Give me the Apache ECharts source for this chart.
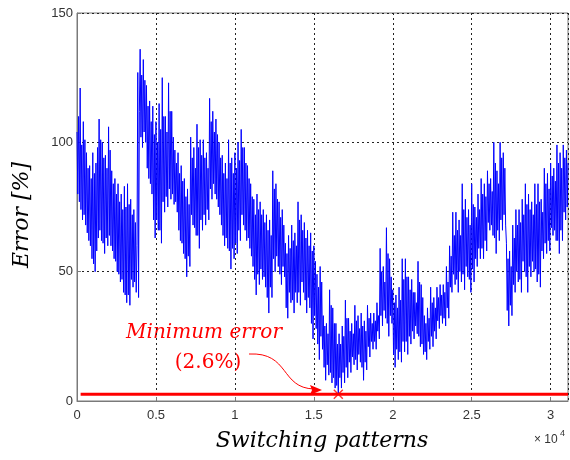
<!DOCTYPE html>
<html>
<head>
<meta charset="utf-8">
<script src="https://cdn.jsdelivr.net/npm/echarts@6/dist/echarts.min.js"></script>
<style>
  html, body { margin: 0; padding: 0; background: #fff; }
  #chart { width: 570px; height: 460px; }
</style>
</head>
<body>
<div id="chart"></div>
<script>
// error for each switching pattern, sampled every 50 patterns
const sampleStep = 50;
const errorPct = [
  104, 80, 110, 77, 121, 74, 99, 70,   108, 72, 101, 68, 96, 65, 90, 62,
  91, 60, 86, 55, 96, 53, 88, 50,      92, 58, 98, 63, 109, 66, 101, 62,
  100, 61, 94, 57, 95, 63, 90, 60,     106, 64, 97, 60, 89, 58, 84, 55,
  86, 54, 80, 50, 84, 49, 77, 46,      80, 47, 74, 42, 83, 41, 75, 38,
  84, 41, 76, 37, 78, 47, 72, 44,      74, 46, 69, 42, 60, 127, 40, 112,
  136, 102, 126, 98, 132, 104, 124, 100,  122, 90, 114, 86, 116, 84, 108, 80,
  114, 70, 103, 63, 108, 70, 100, 66,  115, 66, 105, 61, 125, 77, 110, 73,
  110, 79, 104, 75, 123, 82, 112, 78,  112, 80, 102, 76, 97, 77, 92, 73,
  96, 66, 88, 62, 91, 61, 85, 57,      86, 55, 79, 48, 82, 56, 76, 52,
  102, 72, 94, 68, 98, 67, 90, 64,     107, 64, 98, 59, 101, 70, 95, 66,
  101, 72, 94, 68, 96, 74, 90, 70,     117, 82, 108, 78, 112, 84, 104, 80,
  109, 78, 103, 75, 100, 72, 94, 68,   95, 64, 88, 60, 92, 63, 86, 59,
  101, 58, 92, 51, 94, 59, 88, 55,     96, 61, 90, 57, 100, 66, 93, 62,
  105, 72, 98, 68, 98, 66, 92, 62,     91, 63, 86, 59, 84, 56, 79, 52,
  78, 47, 72, 41, 80, 49, 74, 45,      77, 51, 72, 47, 74, 48, 69, 44,
  72, 40, 66, 34, 70, 44, 64, 40,      89, 55, 82, 50, 84, 56, 78, 52,
  77, 49, 71, 45, 74, 52, 68, 48,      61, 36, 57, 32, 64, 42, 59, 38,
  68, 39, 62, 34, 65, 42, 60, 38,      77, 42, 70, 37, 72, 46, 66, 42,
  69, 39, 63, 34, 66, 40, 60, 36,      65, 30, 58, 24, 60, 33, 54, 28,
  49, 22, 44, 16, 52, 25, 46, 20,      33, 13, 29, 8, 30, 14, 26, 10,
  43, 11, 37, 7, 36, 9, 30, 5,         30, 6, 22, 2.6, 26, 9, 22, 5,
  29, 11, 25, 7, 39, 13, 32, 9,        32, 15, 27, 11, 30, 17, 26, 14,
  37, 16, 31, 12, 33, 18, 28, 15,      34, 13, 29, 8, 31, 15, 27, 12,
  37, 21, 32, 17, 34, 23, 30, 20,      34, 23, 31, 20, 38, 27, 33, 24,
  59, 33, 50, 29, 52, 35, 46, 32,      67, 30, 57, 25, 55, 33, 48, 30,
  43, 18, 38, 13, 41, 20, 36, 16,      44, 19, 39, 15, 55, 23, 47, 19,
  55, 23, 48, 18, 48, 25, 43, 22,      47, 27, 42, 24, 42, 29, 38, 26,
  54, 25, 46, 21, 45, 22, 40, 18,      33, 19, 30, 16, 36, 23, 32, 20,
  44, 25, 38, 21, 40, 27, 36, 24,      44, 31, 40, 28, 45, 33, 41, 30,
  45, 32, 42, 29, 52, 36, 46, 32,      60, 44, 56, 42, 73, 49, 64, 45,
  73, 47, 66, 42, 70, 50, 64, 46,      84, 49, 74, 43, 78, 52, 71, 48,
  74, 47, 68, 42, 84, 51, 76, 46,      75, 55, 71, 52, 80, 59, 74, 55,
  86, 59, 80, 55, 84, 62, 79, 58,      89, 69, 84, 66, 86, 68, 81, 64,
  100, 63, 92, 57, 89, 66, 84, 62,     100, 70, 94, 66, 96, 72, 90, 68,
  61, 35, 55, 29, 58, 37, 52, 33,      68, 45, 63, 42, 74, 50, 68, 46,
  74, 47, 69, 42, 78, 54, 72, 50,      84, 48, 76, 42, 80, 52, 74, 48,
  77, 54, 72, 50, 84, 51, 76, 46,      84, 49, 77, 44, 78, 58, 73, 55,
  90, 61, 84, 57, 88, 62, 82, 58,      92, 67, 87, 64, 90, 66, 85, 62,
  99, 62, 92, 57, 96, 66, 90, 62,      99, 73, 94, 70, 97, 75, 92
];
const minPoint = [16550, 2.6];
const minLineStart = 230;
const xMax = 31100;

const series1 = errorPct.map((v, i) => [i * sampleStep, v]);

const chart = echarts.init(document.getElementById('chart'));
const option = {
  animation: false,
  grid: {
    left: 77, right: 2, top: 13, bottom: 59,
    show: true, borderColor: '#7a7a7a', borderWidth: 1
  },
  xAxis: {
    type: 'value', min: 0, max: xMax, interval: 5000,
    axisLine: { lineStyle: { color: '#7a7a7a', width: 1 } },
    axisTick: { show: true, inside: true, length: 4, lineStyle: { color: '#7a7a7a' } },
    axisLabel: {
      color: '#333', fontSize: 13, fontFamily: 'Liberation Sans', margin: 8,
      showMaxLabel: false,
      formatter: v => String(v / 10000)
    },
    splitLine: { show: true, lineStyle: { color: '#222', type: [2, 3], width: 1 } }
  },
  yAxis: {
    type: 'value', min: 0, max: 150, interval: 50,
    axisLine: { show: true, lineStyle: { color: '#7a7a7a', width: 1 } },
    axisTick: { show: true, inside: true, length: 4, lineStyle: { color: '#7a7a7a' } },
    axisLabel: { color: '#333', fontSize: 13, fontFamily: 'Liberation Sans', margin: 4 },
    splitLine: { show: true, lineStyle: { color: '#222', type: [2, 3], width: 1 } }
  },
  series: [
    {
      type: 'line', data: series1, symbol: 'none', sampling: null,
      lineStyle: { color: '#0000ff', width: 1 }, z: 2
    },
    {
      type: 'line', data: [[minLineStart, minPoint[1]], [xMax, minPoint[1]]],
      symbol: 'none', lineStyle: { color: '#ff0000', width: 3 }, z: 3
    },
    {
      type: 'scatter', data: [minPoint], z: 4,
      symbol: 'path://M0,1L1,0L5,4L9,0L10,1L6,5L10,9L9,10L5,6L1,10L0,9L4,5Z',
      symbolSize: 10, itemStyle: { color: '#ff0000' }
    }
  ],
  graphic: [
    {
      type: 'text', x: 22, y: 215, rotation: Math.PI / 2,
      style: { text: 'Error [%]', font: 'italic 22px "DejaVu Serif"', fill: '#000',
               align: 'center', verticalAlign: 'middle' }
    },
    {
      type: 'text', x: 322, y: 441,
      style: { text: 'Switching patterns', font: 'italic 22px "DejaVu Serif"', fill: '#000',
               align: 'center', verticalAlign: 'middle' }
    },
    {
      type: 'text', x: 534, y: 440,
      style: { text: '× 10', font: '12px "Liberation Sans"', fill: '#333', verticalAlign: 'middle' }
    },
    {
      type: 'text', x: 560, y: 434,
      style: { text: '4', font: '9px "Liberation Sans"', fill: '#333', verticalAlign: 'middle' }
    },
    {
      type: 'text', x: 204, y: 333,
      style: { text: 'Minimum error', font: 'italic 20px "DejaVu Serif"', fill: '#ff0000',
               align: 'center', verticalAlign: 'middle' }
    },
    {
      type: 'text', x: 208, y: 363,
      style: { text: '(2.6%)', font: '20px "DejaVu Serif"', fill: '#ff0000',
               align: 'center', verticalAlign: 'middle' }
    },
    {
      type: 'bezierCurve', z: 10,
      shape: { x1: 249, y1: 354, x2: 314, y2: 389, cpx1: 290, cpy1: 352, cpx2: 280, cpy2: 388 },
      style: { stroke: '#ff0000', lineWidth: 1, fill: null }
    },
    {
      type: 'polygon', z: 10,
      shape: { points: [[322, 390], [310, 385], [312, 390], [310, 395]] },
      style: { fill: '#ff0000' }
    }
  ]
};
chart.setOption(option);
</script>
</body>
</html>
